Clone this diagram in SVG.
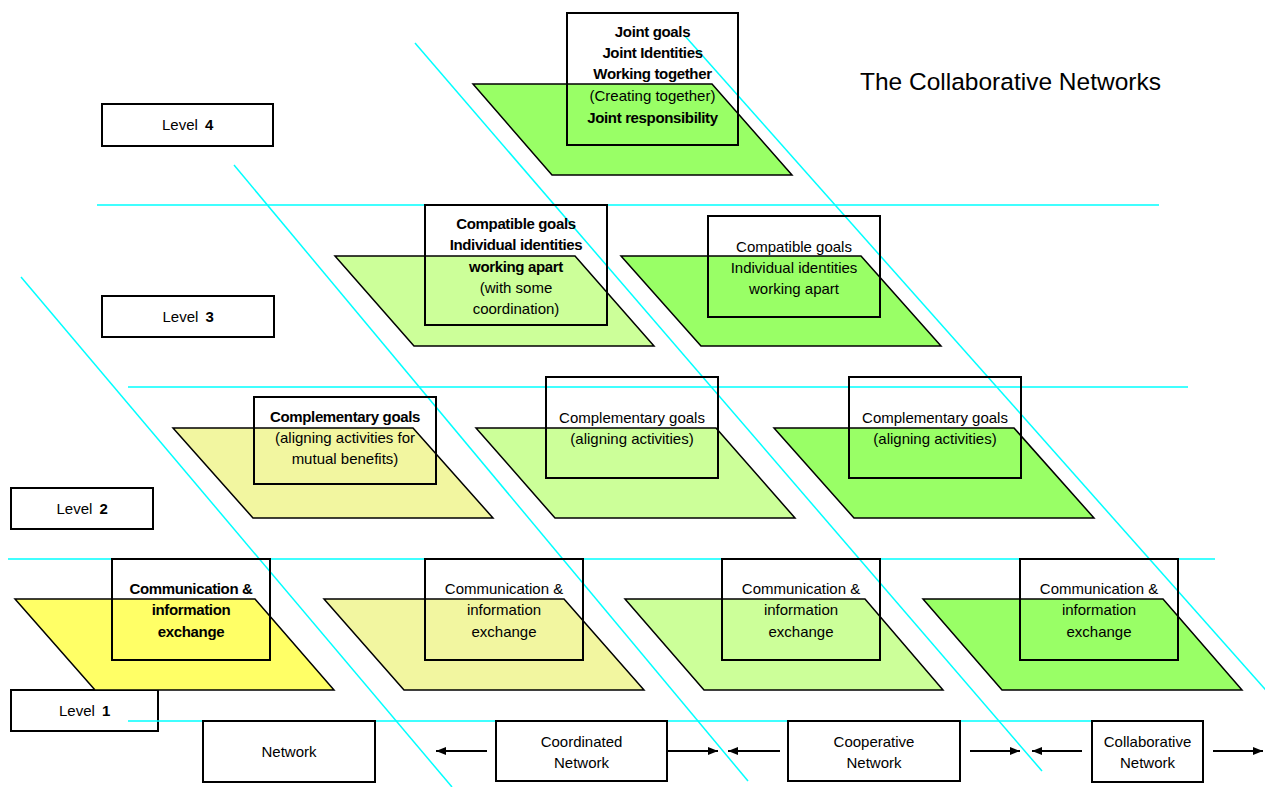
<svg xmlns="http://www.w3.org/2000/svg" width="1265" height="787" viewBox="0 0 1265 787">
<defs>
<style>
.cy{stroke:#00FFFF;stroke-width:1.5;fill:none}
.pg{stroke:#000;stroke-width:1.5;stroke-linejoin:miter}
.bx{fill:none;stroke:#000;stroke-width:2}
.lv{fill:#fff;stroke:#000;stroke-width:2}
.t{font-family:"Liberation Sans",Arial,sans-serif;font-size:15px;text-anchor:middle;fill:#000}
.b{font-weight:bold;letter-spacing:-0.35px}
.ttl{font-family:"Liberation Sans",Arial,sans-serif;font-size:24.5px;fill:#000}
.ar{stroke:#000;stroke-width:2;fill:none;marker-end:url(#ah)}
.yl{fill:#FFFF66}.ly{fill:#F2F6A0}.lg{fill:#CCFF99}.gr{fill:#99FF66}
</style>
<marker id="ah" viewBox="0 0 10 8" refX="10" refY="4" markerWidth="10" markerHeight="8" markerUnits="userSpaceOnUse" orient="auto">
<path d="M0,0 L10,4 L0,8 z" fill="#000"/>
</marker>
</defs>
<rect width="1265" height="787" fill="#fff"/>

<g id="level-4"><rect class="lv" x="102" y="104" width="171" height="42"/><text class="t" x="187.5" y="130">Level <tspan class="b" dx="3">4</tspan></text></g>
<g id="level-3"><rect class="lv" x="102" y="296" width="172" height="41"/><text class="t" x="188" y="322">Level <tspan class="b" dx="3">3</tspan></text></g>
<g id="level-2"><rect class="lv" x="11" y="488" width="142" height="41"/><text class="t" x="82" y="514">Level <tspan class="b" dx="3">2</tspan></text></g>
<g id="level-1"><rect class="lv" x="11" y="690" width="147" height="41"/><text class="t" x="84.5" y="716">Level <tspan class="b" dx="3">1</tspan></text></g>

<g id="guides">
<line class="cy" x1="97" y1="205" x2="1159" y2="205"/>
<line class="cy" x1="128" y1="387" x2="1188" y2="387"/>
<line class="cy" x1="8" y1="559" x2="1215" y2="559"/>
<line class="cy" x1="128" y1="721" x2="1092" y2="721"/>
<line class="cy" x1="21" y1="277" x2="452" y2="787"/>
<line class="cy" x1="234" y1="165" x2="748" y2="781"/>
<line class="cy" x1="415" y1="43" x2="1042" y2="771"/>
<line class="cy" x1="685" y1="36" x2="1272" y2="697"/>
</g>

<g id="l4-collaborative">
<polygon class="pg gr" points="473,84 712,84 792,175 552,175"/>
<rect class="bx" x="567" y="13" width="171" height="132"/>
<text class="t b" x="652.5" y="37">Joint goals</text>
<text class="t b" x="652.5" y="58">Joint Identities</text>
<text class="t b" x="652.5" y="79">Working together</text>
<text class="t" x="652.5" y="101">(Creating together)</text>
<text class="t b" x="652.5" y="123">Joint responsibility</text>
</g>

<g id="l3-cooperative">
<polygon class="pg lg" points="335,256 575,256 654,346 414,346"/>
<rect class="bx" x="425" y="205" width="182" height="120"/>
<text class="t b" x="516" y="229">Compatible goals</text>
<text class="t b" x="516" y="250">Individual identities</text>
<text class="t b" x="516" y="272">working apart</text>
<text class="t" x="516" y="293">(with some</text>
<text class="t" x="516" y="314">coordination)</text>
</g>
<g id="l3-collaborative">
<polygon class="pg gr" points="621,256 861,256 941,346 701,346"/>
<rect class="bx" x="708" y="216" width="172" height="101"/>
<text class="t" x="794" y="252">Compatible goals</text>
<text class="t" x="794" y="273">Individual identities</text>
<text class="t" x="794" y="294">working apart</text>
</g>

<g id="l2-coordinated">
<polygon class="pg ly" points="173,428 413,428 493,518 253,518"/>
<rect class="bx" x="254" y="397" width="182" height="87"/>
<text class="t b" x="345" y="422">Complementary goals</text>
<text class="t" x="345" y="443">(aligning activities for</text>
<text class="t" x="345" y="464">mutual benefits)</text>
</g>
<g id="l2-cooperative">
<polygon class="pg lg" points="476,428 716,428 795,518 555,518"/>
<rect class="bx" x="546" y="377" width="172" height="101"/>
<text class="t" x="632" y="423">Complementary goals</text>
<text class="t" x="632" y="444">(aligning activities)</text>
</g>
<g id="l2-collaborative">
<polygon class="pg gr" points="774,428 1014,428 1094,518 854,518"/>
<rect class="bx" x="849" y="377" width="172" height="101"/>
<text class="t" x="935" y="423">Complementary goals</text>
<text class="t" x="935" y="444">(aligning activities)</text>
</g>

<g id="l1-network">
<polygon class="pg yl" points="15,599 255,599 334,690 95,690"/>
<rect class="bx" x="112" y="559" width="158" height="101"/>
<text class="t b" x="191" y="594">Communication &amp;</text>
<text class="t b" x="191" y="615">information</text>
<text class="t b" x="191" y="637">exchange</text>
</g>
<g id="l1-coordinated">
<polygon class="pg ly" points="324,599 564,599 644,690 404,690"/>
<rect class="bx" x="425" y="559" width="158" height="101"/>
<text class="t" x="504" y="594">Communication &amp;</text>
<text class="t" x="504" y="615">information</text>
<text class="t" x="504" y="637">exchange</text>
</g>
<g id="l1-cooperative">
<polygon class="pg lg" points="625,599 865,599 943,690 704,690"/>
<rect class="bx" x="722" y="559" width="158" height="101"/>
<text class="t" x="801" y="594">Communication &amp;</text>
<text class="t" x="801" y="615">information</text>
<text class="t" x="801" y="637">exchange</text>
</g>
<g id="l1-collaborative">
<polygon class="pg gr" points="923,599 1163,599 1242,690 1002,690"/>
<rect class="bx" x="1020" y="559" width="158" height="101"/>
<text class="t" x="1099" y="594">Communication &amp;</text>
<text class="t" x="1099" y="615">information</text>
<text class="t" x="1099" y="637">exchange</text>
</g>

<g id="network"><rect class="lv" x="203" y="721" width="172" height="61"/><text class="t" x="289" y="757">Network</text></g>
<g id="coordinated-network"><rect class="lv" x="496" y="721" width="171" height="60"/><text class="t" x="581.5" y="747">Coordinated</text><text class="t" x="581.5" y="768">Network</text></g>
<g id="cooperative-network"><rect class="lv" x="788" y="721" width="172" height="60"/><text class="t" x="874" y="747">Cooperative</text><text class="t" x="874" y="768">Network</text></g>
<g id="collaborative-network"><rect class="lv" x="1092" y="721" width="111" height="61"/><text class="t" x="1147.5" y="747">Collaborative</text><text class="t" x="1147.5" y="768">Network</text></g>

<g id="connectors">
<line class="ar" x1="487" y1="751" x2="436" y2="751"/>
<line class="ar" x1="667" y1="751" x2="718" y2="751"/>
<line class="ar" x1="780" y1="751" x2="728" y2="751"/>
<line class="ar" x1="970" y1="751" x2="1020" y2="751"/>
<line class="ar" x1="1082" y1="751" x2="1032" y2="751"/>
<line class="ar" x1="1213" y1="751" x2="1263" y2="751"/>
</g>

<g id="title"><text class="ttl" x="860" y="90">The Collaborative Networks</text></g>
</svg>
